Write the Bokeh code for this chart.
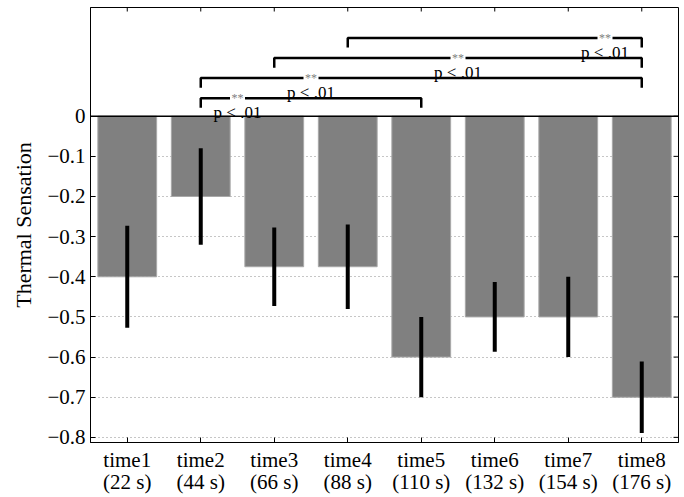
import math
from bokeh.plotting import figure
from bokeh.models import (Range1d, FixedTicker, Span, ColumnDataSource,
                          CustomJSTickFormatter)
from bokeh.core.properties import value
from bokeh.embed import file_html
from bokeh.resources import INLINE

# ---- data ----
categories = ["time1", "time2", "time3", "time4", "time5", "time6", "time7", "time8"]
durations = ["22 s", "44 s", "66 s", "88 s", "110 s", "132 s", "154 s", "176 s"]
means = [-0.4, -0.2, -0.375, -0.375, -0.6, -0.5, -0.5, -0.7]
errors = [0.127, 0.12, 0.098, 0.105, 0.1, 0.087, 0.1, 0.089]
y_ticks = [0, -0.1, -0.2, -0.3, -0.4, -0.5, -0.6, -0.7, -0.8]
# significance brackets: (from, to) category index (1-based), bracket level, label x
bracket_pairs = [(2, 5), (2, 8), (3, 8), (4, 8)]
bracket_levels = [0.045, 0.095, 0.145, 0.195]
bracket_label_x = [2.5, 3.5, 5.5, 7.5]
bracket_stars = ["**", "**", "**", "**"]
bracket_text = ["p < .01", "p < .01", "p < .01", "p < .01"]

# ---- styling constants ----
SERIF = "Liberation Serif"
TICK_DROP = 0.024
TEXT_DROP = 0.037
X0, X1 = 0.5, 8.5
Y0, Y1 = -0.8128, 0.2708

xs = list(range(1, len(categories) + 1))

p = figure(width=684, height=497, output_backend="svg", toolbar_location=None,
           x_range=Range1d(X0, X1), y_range=Range1d(Y0, Y1),
           min_border_left=90, min_border_right=6, min_border_top=7, min_border_bottom=49)
p.background_fill_color = "white"
p.border_fill_color = "white"
p.outline_line_color = "black"
p.outline_line_width = 1

# grid
p.xgrid.visible = False
p.ygrid.ticker = FixedTicker(ticks=y_ticks)
p.ygrid.grid_line_color = "#8c8c8c"
p.ygrid.grid_line_dash = "1 3"
p.ygrid.grid_line_width = 1

# bars
src = ColumnDataSource(dict(x=xs, top=means,
                            lo=[m - e for m, e in zip(means, errors)],
                            hi=[m + e for m, e in zip(means, errors)]))
p.vbar(x="x", top="top", bottom=0, width=0.8, source=src,
       fill_color="#808080", line_color="#a8a8a8", line_width=1)
p.segment(x0="x", x1="x", y0="lo", y1="hi", source=src, line_color="black", line_width=4)

# zero line
p.add_layout(Span(location=0, dimension="width", line_color="black", line_width=1.5))

# mirrored ticks on top and right edges of the box
p.ray(x=xs, y=[Y1] * len(xs), length=4, length_units="screen", angle=-math.pi / 2,
      line_color="black", line_width=1)
p.ray(x=[X1] * len(y_ticks), y=y_ticks, length=5, length_units="screen", angle=math.pi,
      line_color="black", line_width=1)

# brackets
bx, by = [], []
for (a, b), lvl in zip(bracket_pairs, bracket_levels):
    bx.append([a, a, b, b])
    by.append([lvl - TICK_DROP, lvl, lvl, lvl - TICK_DROP])
p.multi_line(xs=bx, ys=by, line_color="black", line_width=2.5)
p.rect(x=bracket_label_x, y=bracket_levels, width=15, height=7,
       width_units="screen", height_units="screen", fill_color="white", line_color=None)
p.text(x=bracket_label_x, y=bracket_levels, text=bracket_stars,
       text_font=value(SERIF), text_font_size="12px", text_color="#808080",
       text_align="center", text_baseline="middle")
p.text(x=bracket_label_x, y=[l - TEXT_DROP for l in bracket_levels], text=bracket_text,
       text_font=value(SERIF), text_font_size="17px", text_color="black",
       text_align="center", text_baseline="alphabetic")

# axes
xlabels = {x: f"{c}\n({d})" for x, c, d in zip(xs, categories, durations)}
p.xaxis.ticker = FixedTicker(ticks=xs)
p.xaxis.major_label_overrides = xlabels
p.yaxis.ticker = FixedTicker(ticks=y_ticks)
p.yaxis.formatter = CustomJSTickFormatter(
    code="return tick == 0 ? '0' : '\\u2212' + Math.abs(tick).toFixed(1);")
p.yaxis.axis_label = "Thermal Sensation"
p.yaxis.axis_label_text_font = SERIF
p.yaxis.axis_label_text_font_size = "22px"
p.yaxis.axis_label_text_font_style = "normal"
p.yaxis.axis_label_text_color = "black"
p.yaxis.axis_label_standoff = 8

for ax in (p.xaxis[0], p.yaxis[0]):
    ax.major_label_text_font = SERIF
    ax.major_label_text_font_size = "21px"
    ax.major_label_text_color = "black"
    ax.major_label_standoff = 5
    ax.major_tick_in = 5
    ax.major_tick_out = 0
    ax.minor_tick_line_color = None
    ax.axis_line_color = "black"
    ax.major_tick_line_color = "black"
p.xaxis.major_label_text_line_height = 0.95
p.xaxis.major_label_standoff = 5

open("out.html", "w").write(file_html(p, INLINE))
